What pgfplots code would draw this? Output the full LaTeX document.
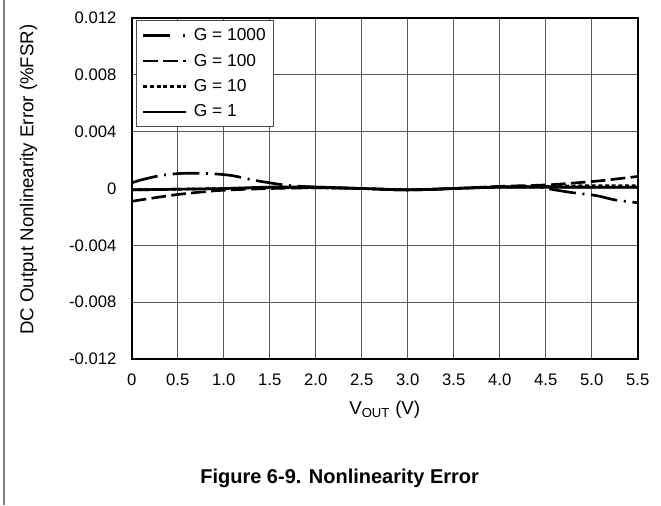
\documentclass[border=0pt]{standalone}
\usepackage{fontspec}
\setmainfont{Liberation Sans}
\usepackage{pgfplots}
\pgfplotsset{compat=1.18}
\begin{document}
\begin{tikzpicture}
\path[use as bounding box] (-98.8pt,-109.5pt) rectangle (396.9pt,269.25pt);
\begin{axis}[
  at={(0pt,0pt)}, anchor=south west,
  scale only axis, width=379.5pt, height=255.75pt,
  xmin=0, xmax=5.5, ymin=-0.012, ymax=0.012,
  xtick={0,0.5,1,1.5,2,2.5,3,3.5,4,4.5,5,5.5},
  xticklabels={0,0.5,1.0,1.5,2.0,2.5,3.0,3.5,4.0,4.5,5.0,5.5},
  ytick={-0.012,-0.008,-0.004,0,0.004,0.008,0.012},
  yticklabels={-0.012,-0.008,-0.004,0,0.004,0.008,0.012},
  scaled y ticks=false,
  major tick length=0pt,
  grid=major,
  grid style={black!65, line width=0.6pt},
  axis line style={line width=1.5pt},
  tick label style={font=\fontsize{12.5}{14}\selectfont},
  yticklabel style={xshift=-8pt},
  xticklabel style={yshift=-7.5pt},
  xlabel={V\textsubscript{OUT} (V)},
  ylabel={DC Output Nonlinearity Error (\%FSR)},
  label style={font=\fontsize{14}{16}\selectfont},
  xlabel style={at={(axis description cs:0.5,0)}, anchor=north, yshift=-28pt},
  ylabel style={at={(axis description cs:-0.2037,0.526)}, anchor=center},
  legend cell align=left,
  legend image code/.code={\draw[#1] (0pt,0pt) -- (32pt,0pt);},
  legend style={at={(axis description cs:0,1)}, anchor=north west,
    xshift=3.2pt, yshift=-1.5pt,
    draw=black!70, line width=0.8pt, font=\fontsize{13}{15}\selectfont,
    row sep=4.5pt, column sep=3pt, inner xsep=4pt, inner ysep=4pt},
]
\addplot[black, line width=2pt, smooth, dash pattern=on 20pt off 5pt on 1.5pt off 5pt,
  legend image code/.code={\draw[black, line width=2pt, dash pattern=on 20pt off 10pt on 1.5pt off 10pt] (0pt,0pt) -- (32pt,0pt);}] coordinates {
(0,0.0004) (0.1,0.0006) (0.3,0.0009) (0.5,0.00105) (0.7,0.00107) (0.9,0.00103)
(1.1,0.0009) (1.3,0.00062) (1.5,0.0004) (1.7,0.00022) (2.0,0.0001) (2.5,0.0)
(3.0,-0.0001) (3.5,0.0) (4.0,0.0001) (4.4,0.0001) (4.6,-0.0001) (4.8,-0.0003)
(5.05,-0.0005) (5.25,-0.0008) (5.5,-0.001)};
\addlegendentry{G = 1000}
\addplot[black, line width=2pt, smooth, dash pattern=on 11pt off 4pt] coordinates {
(0,-0.0009) (0.25,-0.00065) (0.5,-0.00042) (0.75,-0.00025) (1.0,-0.00012)
(1.5,0.0) (2.0,0.00005) (2.5,0.0) (3.0,-0.0001) (3.5,0.0) (4.0,0.00015)
(4.5,0.00025) (4.75,0.00036) (5.1,0.00055) (5.5,0.00085)};
\addlegendentry{G = 100}
\addplot[black, line width=2pt, smooth, dash pattern=on 3pt off 2pt] coordinates {
(0,-0.0001) (0.5,-0.00005) (1.0,0.0) (1.5,0.00005) (2.0,0.00005) (2.5,0.0)
(3.0,-0.00008) (3.5,0.0) (4.0,0.0001) (4.5,0.00015) (5.0,0.0002) (5.5,0.0002)};
\addlegendentry{G = 10}
\addplot[black, line width=2pt, smooth] coordinates {
(0,-0.0001) (0.5,-0.00005) (1.0,0.0) (1.5,0.0001) (2.0,0.0001) (2.5,0.0)
(3.0,-0.0001) (3.5,0.0) (4.0,0.00012) (4.5,0.00012) (5.0,0.0001) (5.5,0.0001)};
\addlegendentry{G = 1}
\end{axis}
\draw[black!50, line width=0.8pt] (-95.8pt,-109.5pt) -- (-95.8pt,269.25pt);
\node[font=\bfseries\fontsize{15}{17}\selectfont] at (155.9pt,-89.3pt) {Figure 6-9. Nonlinearity Error};
\end{tikzpicture}
\end{document}
